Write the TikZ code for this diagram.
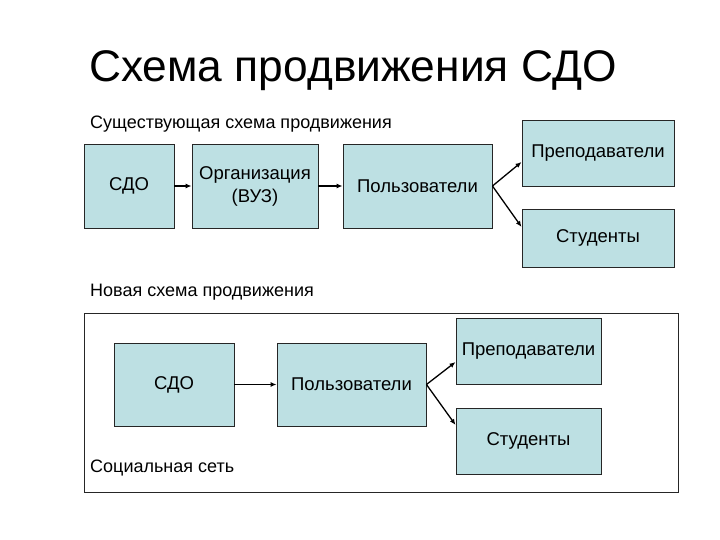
\documentclass[tikz,border=0pt]{standalone}
\usepackage{fontspec}
\setmainfont{Liberation Sans}
\usetikzlibrary{arrows.meta,calc}
\definecolor{boxfill}{HTML}{BDE0E3}
\tikzset{
  box/.style={draw=black!85, line width=0.9pt, fill=boxfill, inner sep=0pt, align=center,
    font=\fontsize{18.5}{23}\selectfont},
  conn/.style={line width=1.3pt, -{Latex[length=6pt,width=5pt]}},
  label/.style={anchor=west, inner sep=0pt, font=\fontsize{18}{22}\selectfont}
}
\begin{document}
\begin{tikzpicture}[x=1pt,y=-1pt]
\useasboundingbox (0,0) rectangle (720,540);
\node[anchor=west, inner sep=0pt, font=\fontsize{44.3}{50}\selectfont] (title) at (89,71) {Схема продвижения СДО};
\node[label] (sub1) at (90,124) {Существующая схема продвижения};
\node[box, minimum width=90pt, minimum height=84pt] (sdo1) at (129,186) {СДО};
\node[box, minimum width=126pt, minimum height=84pt] (org) at (255,186) {Организация\\(ВУЗ)};
\node[box, minimum width=149pt, minimum height=84pt] (pol1) at (417.5,186) {Пользователи};
\node[box, minimum width=152pt, minimum height=66pt] (pre1) at (598,153) {Преподаватели};
\node[box, minimum width=152pt, minimum height=58pt] (stu1) at (598,238) {Студенты};
\draw[conn] (sdo1.east) -- (org.west);
\draw[conn] (org.east) -- (pol1.west);
\draw[conn] (pol1.east) -- ($(pre1.west)+(0,9)$);
\draw[conn] (pol1.east) -- ($(stu1.west)+(0,-11)$);
\node[label] (sub2) at (90,292) {Новая схема продвижения};
\draw[line width=0.9pt, draw=black!85] (84,313) rectangle (678,492);
\node[box, minimum width=120pt, minimum height=83pt] (sdo2) at (174,384.5) {СДО};
\node[box, minimum width=149pt, minimum height=83pt] (pol2) at (351.5,384.5) {Пользователи};
\node[box, minimum width=145pt, minimum height=66pt] (pre2) at (528.5,351) {Преподаватели};
\node[box, minimum width=145pt, minimum height=66pt] (stu2) at (528.5,441) {Студенты};
\draw[conn] (sdo2.east) -- (pol2.west);
\draw[conn] (pol2.east) -- ($(pre2.west)+(0,11)$);
\draw[conn] (pol2.east) -- ($(stu2.west)+(0,-16)$);
\node[label] (soc) at (90,468) {Социальная сеть};
\end{tikzpicture}
\end{document}
